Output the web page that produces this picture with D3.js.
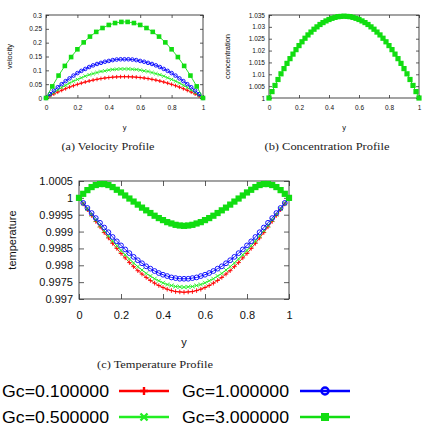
<!DOCTYPE html>
<html><head><meta charset="utf-8">
<script src="https://cdn.jsdelivr.net/npm/d3@7"></script>
<style>body{margin:0;background:#fff}svg{display:block}</style>
</head><body>
<svg id="c" width="423" height="436"></svg>
<script>
// ---------- data ----------
const seriesNames = ["Gc=0.100000","Gc=0.500000","Gc=1.000000","Gc=3.000000"];
const xTicks = [0,0.2,0.4,0.6,0.8,1];
const xTickLabels = ["0","0.2","0.4","0.6","0.8","1"];

// velocity profile
const velGrid = [0,0.025,0.05,0.075,0.1,0.125,0.15,0.175,0.2,0.225,0.25,0.275,0.3,0.325,0.35,0.375,0.4,0.425,0.45,0.475,0.5,0.525,0.55,0.575,0.6,0.625,0.65,0.675,0.7,0.725,0.75,0.775,0.8,0.825,0.85,0.875,0.9,0.925,0.95,0.975,1];
const velGridSq = [0,0.04,0.08,0.12,0.16,0.2,0.24,0.28,0.32,0.36,0.4,0.44,0.48,0.52,0.56,0.6,0.64,0.68,0.72,0.76,0.8,0.84,0.88,0.92,0.96,1];
const velGc01 = [0,0.0075,0.0146,0.0214,0.0277,0.0337,0.0393,0.0445,0.0493,0.0537,0.0578,0.0614,0.0647,0.0676,0.0701,0.0722,0.0739,0.0753,0.0762,0.0768,0.077,0.0768,0.0762,0.0753,0.0739,0.0722,0.0701,0.0676,0.0647,0.0614,0.0578,0.0537,0.0493,0.0445,0.0393,0.0337,0.0277,0.0214,0.0146,0.0075,0];
const velGc05 = [0,0.010,0.020,0.029,0.038,0.046,0.054,0.061,0.067,0.073,0.079,0.084,0.088,0.092,0.096,0.098,0.101,0.103,0.104,0.105,0.105,0.105,0.104,0.103,0.101,0.098,0.096,0.092,0.088,0.084,0.079,0.073,0.067,0.061,0.054,0.046,0.038,0.029,0.020,0.010,0];
const velGc1 = [0,0.014,0.027,0.039,0.050,0.061,0.071,0.081,0.090,0.098,0.105,0.112,0.118,0.123,0.127,0.131,0.134,0.137,0.139,0.140,0.140,0.140,0.139,0.137,0.134,0.131,0.127,0.123,0.118,0.112,0.105,0.098,0.090,0.081,0.071,0.061,0.050,0.039,0.027,0.014,0];
const velGc3 = [0,0.042,0.081,0.116,0.148,0.176,0.201,0.222,0.239,0.253,0.264,0.271,0.275,0.275,0.271,0.264,0.253,0.239,0.222,0.201,0.176,0.148,0.116,0.081,0.042,0];
const velYTicks = [0,0.05,0.1,0.15,0.2,0.25,0.3];
const velYLabels = ["0","0.05","0.1","0.15","0.2","0.25","0.3"];

// concentration profile
const conGrid = [0,0.02,0.04,0.06,0.08,0.1,0.12,0.14,0.16,0.18,0.2,0.22,0.24,0.26,0.28,0.3,0.32,0.34,0.36,0.38,0.4,0.42,0.44,0.46,0.48,0.5,0.52,0.54,0.56,0.58,0.6,0.62,0.64,0.66,0.68,0.7,0.72,0.74,0.76,0.78,0.8,0.82,0.84,0.86,0.88,0.9,0.92,0.94,0.96,0.98,1];
const conAll = [1,1.0027,1.0053,1.0078,1.0102,1.0124,1.0146,1.0166,1.0185,1.0204,1.0221,1.0237,1.0252,1.0266,1.0278,1.029,1.03,1.031,1.0318,1.0325,1.0331,1.0336,1.034,1.0343,1.0344,1.0345,1.0344,1.0343,1.034,1.0336,1.0331,1.0325,1.0318,1.031,1.03,1.029,1.0278,1.0266,1.0252,1.0237,1.0221,1.0204,1.0185,1.0166,1.0146,1.0124,1.0102,1.0078,1.0053,1.0027,1];
const conYTicks = [1,1.005,1.01,1.015,1.02,1.025,1.03,1.035];
const conYLabels = ["1","1.005","1.01","1.015","1.02","1.025","1.03","1.035"];

// temperature profile
const tmpGrid = [0,0.02,0.04,0.06,0.08,0.1,0.12,0.14,0.16,0.18,0.2,0.22,0.24,0.26,0.28,0.3,0.32,0.34,0.36,0.38,0.4,0.42,0.44,0.46,0.48,0.5,0.52,0.54,0.56,0.58,0.6,0.62,0.64,0.66,0.68,0.7,0.72,0.74,0.76,0.78,0.8,0.82,0.84,0.86,0.88,0.9,0.92,0.94,0.96,0.98,1];
const tmpGc01 = [1,0.99982,0.99965,0.99948,0.9993,0.99914,0.99897,0.99881,0.99865,0.9985,0.99835,0.99822,0.99808,0.99796,0.99784,0.99774,0.99764,0.99755,0.99747,0.9974,0.99734,0.99729,0.99725,0.99722,0.99721,0.9972,0.99721,0.99722,0.99725,0.99729,0.99734,0.9974,0.99747,0.99755,0.99764,0.99774,0.99784,0.99796,0.99808,0.99822,0.99835,0.9985,0.99865,0.99881,0.99897,0.99914,0.9993,0.99948,0.99965,0.99982,1];
const tmpGc05 = [1,0.99983,0.99967,0.9995,0.99934,0.99918,0.99903,0.99887,0.99872,0.99858,0.99844,0.99831,0.99819,0.99807,0.99796,0.99786,0.99776,0.99768,0.9976,0.99754,0.99748,0.99743,0.9974,0.99737,0.99736,0.99735,0.99736,0.99737,0.9974,0.99743,0.99748,0.99754,0.9976,0.99768,0.99776,0.99786,0.99796,0.99807,0.99819,0.99831,0.99844,0.99858,0.99872,0.99887,0.99903,0.99918,0.99934,0.9995,0.99967,0.99983,1];
const tmpGc1 = [1,0.99985,0.9997,0.99955,0.9994,0.99926,0.99912,0.99898,0.99884,0.99871,0.99859,0.99847,0.99836,0.99825,0.99815,0.99806,0.99797,0.9979,0.99783,0.99777,0.99772,0.99768,0.99764,0.99762,0.9976,0.9976,0.9976,0.99762,0.99764,0.99768,0.99772,0.99777,0.99783,0.9979,0.99797,0.99806,0.99815,0.99825,0.99836,0.99847,0.99859,0.99871,0.99884,0.99898,0.99912,0.99926,0.9994,0.99955,0.9997,0.99985,1];
const tmpGc3 = [1,1.00012,1.00023,1.00032,1.00038,1.00041,1.00041,1.00038,1.00032,1.00024,1.00016,1.00007,0.99998,0.99989,0.9998,0.99971,0.99963,0.99955,0.99947,0.9994,0.99934,0.99928,0.99924,0.9992,0.99918,0.99917,0.99918,0.9992,0.99924,0.99928,0.99934,0.9994,0.99947,0.99955,0.99963,0.99971,0.9998,0.99989,0.99998,1.00007,1.00016,1.00024,1.00032,1.00038,1.00041,1.00041,1.00038,1.00032,1.00023,1.00012,1];
const tmpYTicks = [0.997,0.9975,0.998,0.9985,0.999,0.9995,1,1.0005];
const tmpYLabels = ["0.997","0.9975","0.998","0.9985","0.999","0.9995","1","1.0005"];

// ---------- styles ----------
const colors = ["#ff0000","#22ee22","#0000ff","#11dd11"];
const markers = ["plus","cross","circle","square"];
const SANS = "'Liberation Sans', Arial, Helvetica, sans-serif";
const SERIF = "'Liberation Serif', 'DejaVu Serif', serif";

const svg = d3.select("#c");

function markerPath(type, s) {
  if (type === "plus") return `M${-s},0H${s}M0,${-s}V${s}`;
  if (type === "cross") return `M${-s},${-s}L${s},${s}M${-s},${s}L${s},${-s}`;
  return null;
}

function drawMarkers(g, type, pts, color, s, sw) {
  if (type === "square") {
    g.selectAll(null).data(pts).enter().append("rect")
      .attr("x", d => d[0] - s).attr("y", d => d[1] - s)
      .attr("width", 2 * s).attr("height", 2 * s).attr("fill", color);
  } else if (type === "circle") {
    g.selectAll(null).data(pts).enter().append("circle")
      .attr("cx", d => d[0]).attr("cy", d => d[1]).attr("r", s)
      .attr("fill", "none").attr("stroke", color).attr("stroke-width", sw);
  } else {
    g.selectAll(null).data(pts).enter().append("path")
      .attr("transform", d => `translate(${d[0]},${d[1]})`)
      .attr("d", markerPath(type, s))
      .attr("fill", "none").attr("stroke", color).attr("stroke-width", sw);
  }
}

function panel(o) {
  const x = d3.scaleLinear().domain([0, 1]).range([o.left, o.right]);
  const y = d3.scaleLinear().domain(o.yDomain).range([o.bottom, o.top]);
  const g = svg.append("g");
  const fmtY = (d, i) => o.yLabels[i];

  const ax = (axis) => axis.tickSizeOuter(0);
  const gb = g.append("g").attr("transform", `translate(0,${o.bottom})`)
    .call(ax(d3.axisBottom(x).tickValues(xTicks).tickFormat((d, i) => xTickLabels[i]).tickSize(-o.tick).tickPadding(o.xPad)));
  const gt = g.append("g").attr("transform", `translate(0,${o.top})`)
    .call(ax(d3.axisTop(x).tickValues(xTicks).tickFormat("").tickSize(-o.tick)));
  const gl = g.append("g").attr("transform", `translate(${o.left},0)`)
    .call(ax(d3.axisLeft(y).tickValues(o.yTicks).tickFormat(fmtY).tickSize(-o.tick).tickPadding(o.yPad)));
  const gr = g.append("g").attr("transform", `translate(${o.right},0)`)
    .call(ax(d3.axisRight(y).tickValues(o.yTicks).tickFormat("").tickSize(-o.tick)));
  [gb, gt, gl, gr].forEach(a => {
    a.select(".domain").remove();
    a.selectAll(".tick line").attr("stroke", "#333").attr("stroke-width", 0.8);
    a.selectAll("text").attr("font-family", SANS).attr("font-size", o.font).attr("fill", "#111");
  });
  g.append("rect").attr("x", o.left).attr("y", o.top)
    .attr("width", o.right - o.left).attr("height", o.bottom - o.top)
    .attr("fill", "none").attr("stroke", "#333").attr("stroke-width", 0.9);

  const line = d3.line().x(d => x(d[0])).y(d => y(d[1]));
  o.series.forEach(s => {
    const pts = s.xs.map((v, i) => [v, s.ys[i]]);
    g.append("path").datum(pts).attr("d", line).attr("fill", "none")
      .attr("stroke", colors[s.idx]).attr("stroke-width", 0.9);
    drawMarkers(g.append("g"), markers[s.idx], pts.map(p => [x(p[0]), y(p[1])]), colors[s.idx], s.size, 0.9);
  });

  g.append("text").attr("transform", `translate(${o.ylabX},${(o.top + o.bottom) / 2}) rotate(-90)`)
    .attr("text-anchor", "middle").attr("font-family", SANS).attr("font-size", o.labFont)
    .attr("fill", "#111").text(o.ylabel);
  g.append("text").attr("x", (o.left + o.right) / 2).attr("y", o.xlabY)
    .attr("text-anchor", "middle").attr("font-family", SANS).attr("font-size", o.labFont)
    .attr("fill", "#111").text("y");
  g.append("text").attr("x", o.capX).attr("y", o.capY).attr("text-anchor", "middle")
    .attr("font-family", SERIF).attr("font-size", o.capFont).attr("fill", "#222")
    .attr("textLength", o.capLen).attr("lengthAdjust", "spacingAndGlyphs").text(o.caption);
}

panel({
  left: 46, right: 203, top: 15, bottom: 98, yDomain: [0, 0.3],
  yTicks: velYTicks, yLabels: velYLabels, tick: 3, xPad: 7, yPad: 4, font: 6.5,
  ylabel: "velocity", ylabX: 12, labFont: 7.5, xlabY: 130,
  caption: "(a) Velocity Profile", capX: 108, capY: 150, capFont: 9.5, capLen: 93,
  series: [
    {idx: 0, xs: velGrid, ys: velGc01, size: 2},
    {idx: 1, xs: velGrid, ys: velGc05, size: 1.7},
    {idx: 2, xs: velGrid, ys: velGc1, size: 1.8},
    {idx: 3, xs: velGridSq, ys: velGc3, size: 2.3}
  ]
});

panel({
  left: 269, right: 419, top: 15, bottom: 98, yDomain: [1, 1.035],
  yTicks: conYTicks, yLabels: conYLabels, tick: 3, xPad: 7, yPad: 4, font: 6.5,
  ylabel: "concentration", ylabX: 230, labFont: 7.5, xlabY: 130,
  caption: "(b) Concentration Profile", capX: 327, capY: 150, capFont: 9.5, capLen: 125,
  series: [
    {idx: 3, xs: conGrid, ys: conAll, size: 2.6}
  ]
});

panel({
  left: 79, right: 289, top: 181, bottom: 299, yDomain: [0.997, 1.0005],
  yTicks: tmpYTicks, yLabels: tmpYLabels, tick: 5, xPad: 12, yPad: 6, font: 11,
  ylabel: "temperature", ylabX: 16, labFont: 11, xlabY: 346,
  caption: "(c) Temperature Profile", capX: 155, capY: 368, capFont: 9.5, capLen: 116,
  series: [
    {idx: 0, xs: tmpGrid, ys: tmpGc01, size: 2.3},
    {idx: 1, xs: tmpGrid, ys: tmpGc05, size: 2},
    {idx: 2, xs: tmpGrid, ys: tmpGc1, size: 2.4},
    {idx: 3, xs: tmpGrid, ys: tmpGc3, size: 3.1}
  ]
});

// ---------- legend ----------
const legendPos = [
  {tx: 2, lx: 119, y: 391}, {tx: 2, lx: 119, y: 417},
  {tx: 182, lx: 300, y: 391}, {tx: 182, lx: 300, y: 417}
];
const leg = svg.append("g");
seriesNames.forEach((name, i) => {
  const p = legendPos[i];
  leg.append("text").attr("x", p.tx).attr("y", p.y + 6).attr("font-family", SANS)
    .attr("font-size", 17).attr("fill", "#000")
    .attr("textLength", 107).attr("lengthAdjust", "spacingAndGlyphs").text(name);
  leg.append("line").attr("x1", p.lx).attr("x2", p.lx + 50).attr("y1", p.y).attr("y2", p.y)
    .attr("stroke", colors[i]).attr("stroke-width", 2.6);
  const msz = [4, 3.5, 3.5, 4][i];
  drawMarkers(leg.append("g"), markers[i], [[p.lx + 25, p.y]], colors[i], msz, 2.4);
});
</script>
</body></html>
